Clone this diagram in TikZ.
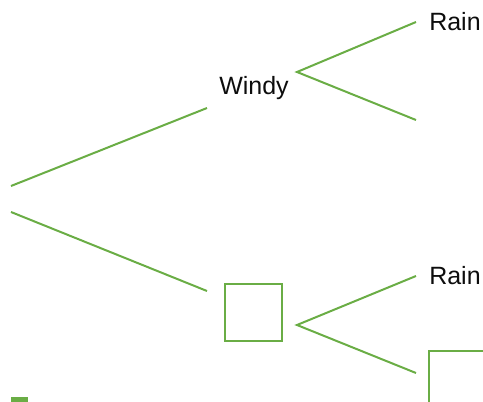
\documentclass[tikz,border=0pt]{standalone}
\usepackage{fontspec}
\setmainfont{Liberation Sans}
\definecolor{lg}{RGB}{106,173,69}
\begin{document}
\begin{tikzpicture}[x=1pt,y=-1pt,
  edge/.style={draw=lg,line width=2pt},
  lbl/.style={font=\fontsize{25}{29}\selectfont,text=black!95,inner sep=0pt},
  box/.style={draw=lg,line width=2pt}]
\useasboundingbox (0,0) rectangle (483,402);
% root ends
\coordinate (r1) at (11,186);
\coordinate (r2) at (11,212);
% Windy
\node[lbl] (windy) at (254,88) {Windy};
\coordinate (w-in) at (207,108);
\coordinate (w-out) at (297,72);
\coordinate (w-a) at (416,22);
\coordinate (w-b) at (416,120);
\node[lbl] (rain1) at (455,22) {Rain};
% square decision
\node[box,minimum size=57pt,inner sep=0pt] (sq) at (253.5,312.5) {};
\coordinate (s-in) at (207,291);
\coordinate (s-out) at (297,325);
\coordinate (s-a) at (416,276);
\coordinate (s-b) at (416,373);
\node[lbl] (rain2) at (455,276) {Rain};
% edges
\draw[edge] (r1) -- (w-in);
\draw[edge] (r2) -- (s-in);
\draw[edge] (w-a) -- (w-out) -- (w-b);
\draw[edge] (s-a) -- (s-out) -- (s-b);
% cut-off squares
\draw[box] (429,351) rectangle (500,420);
\fill[lg] (11,397) rectangle (28,402);
\end{tikzpicture}
\end{document}
